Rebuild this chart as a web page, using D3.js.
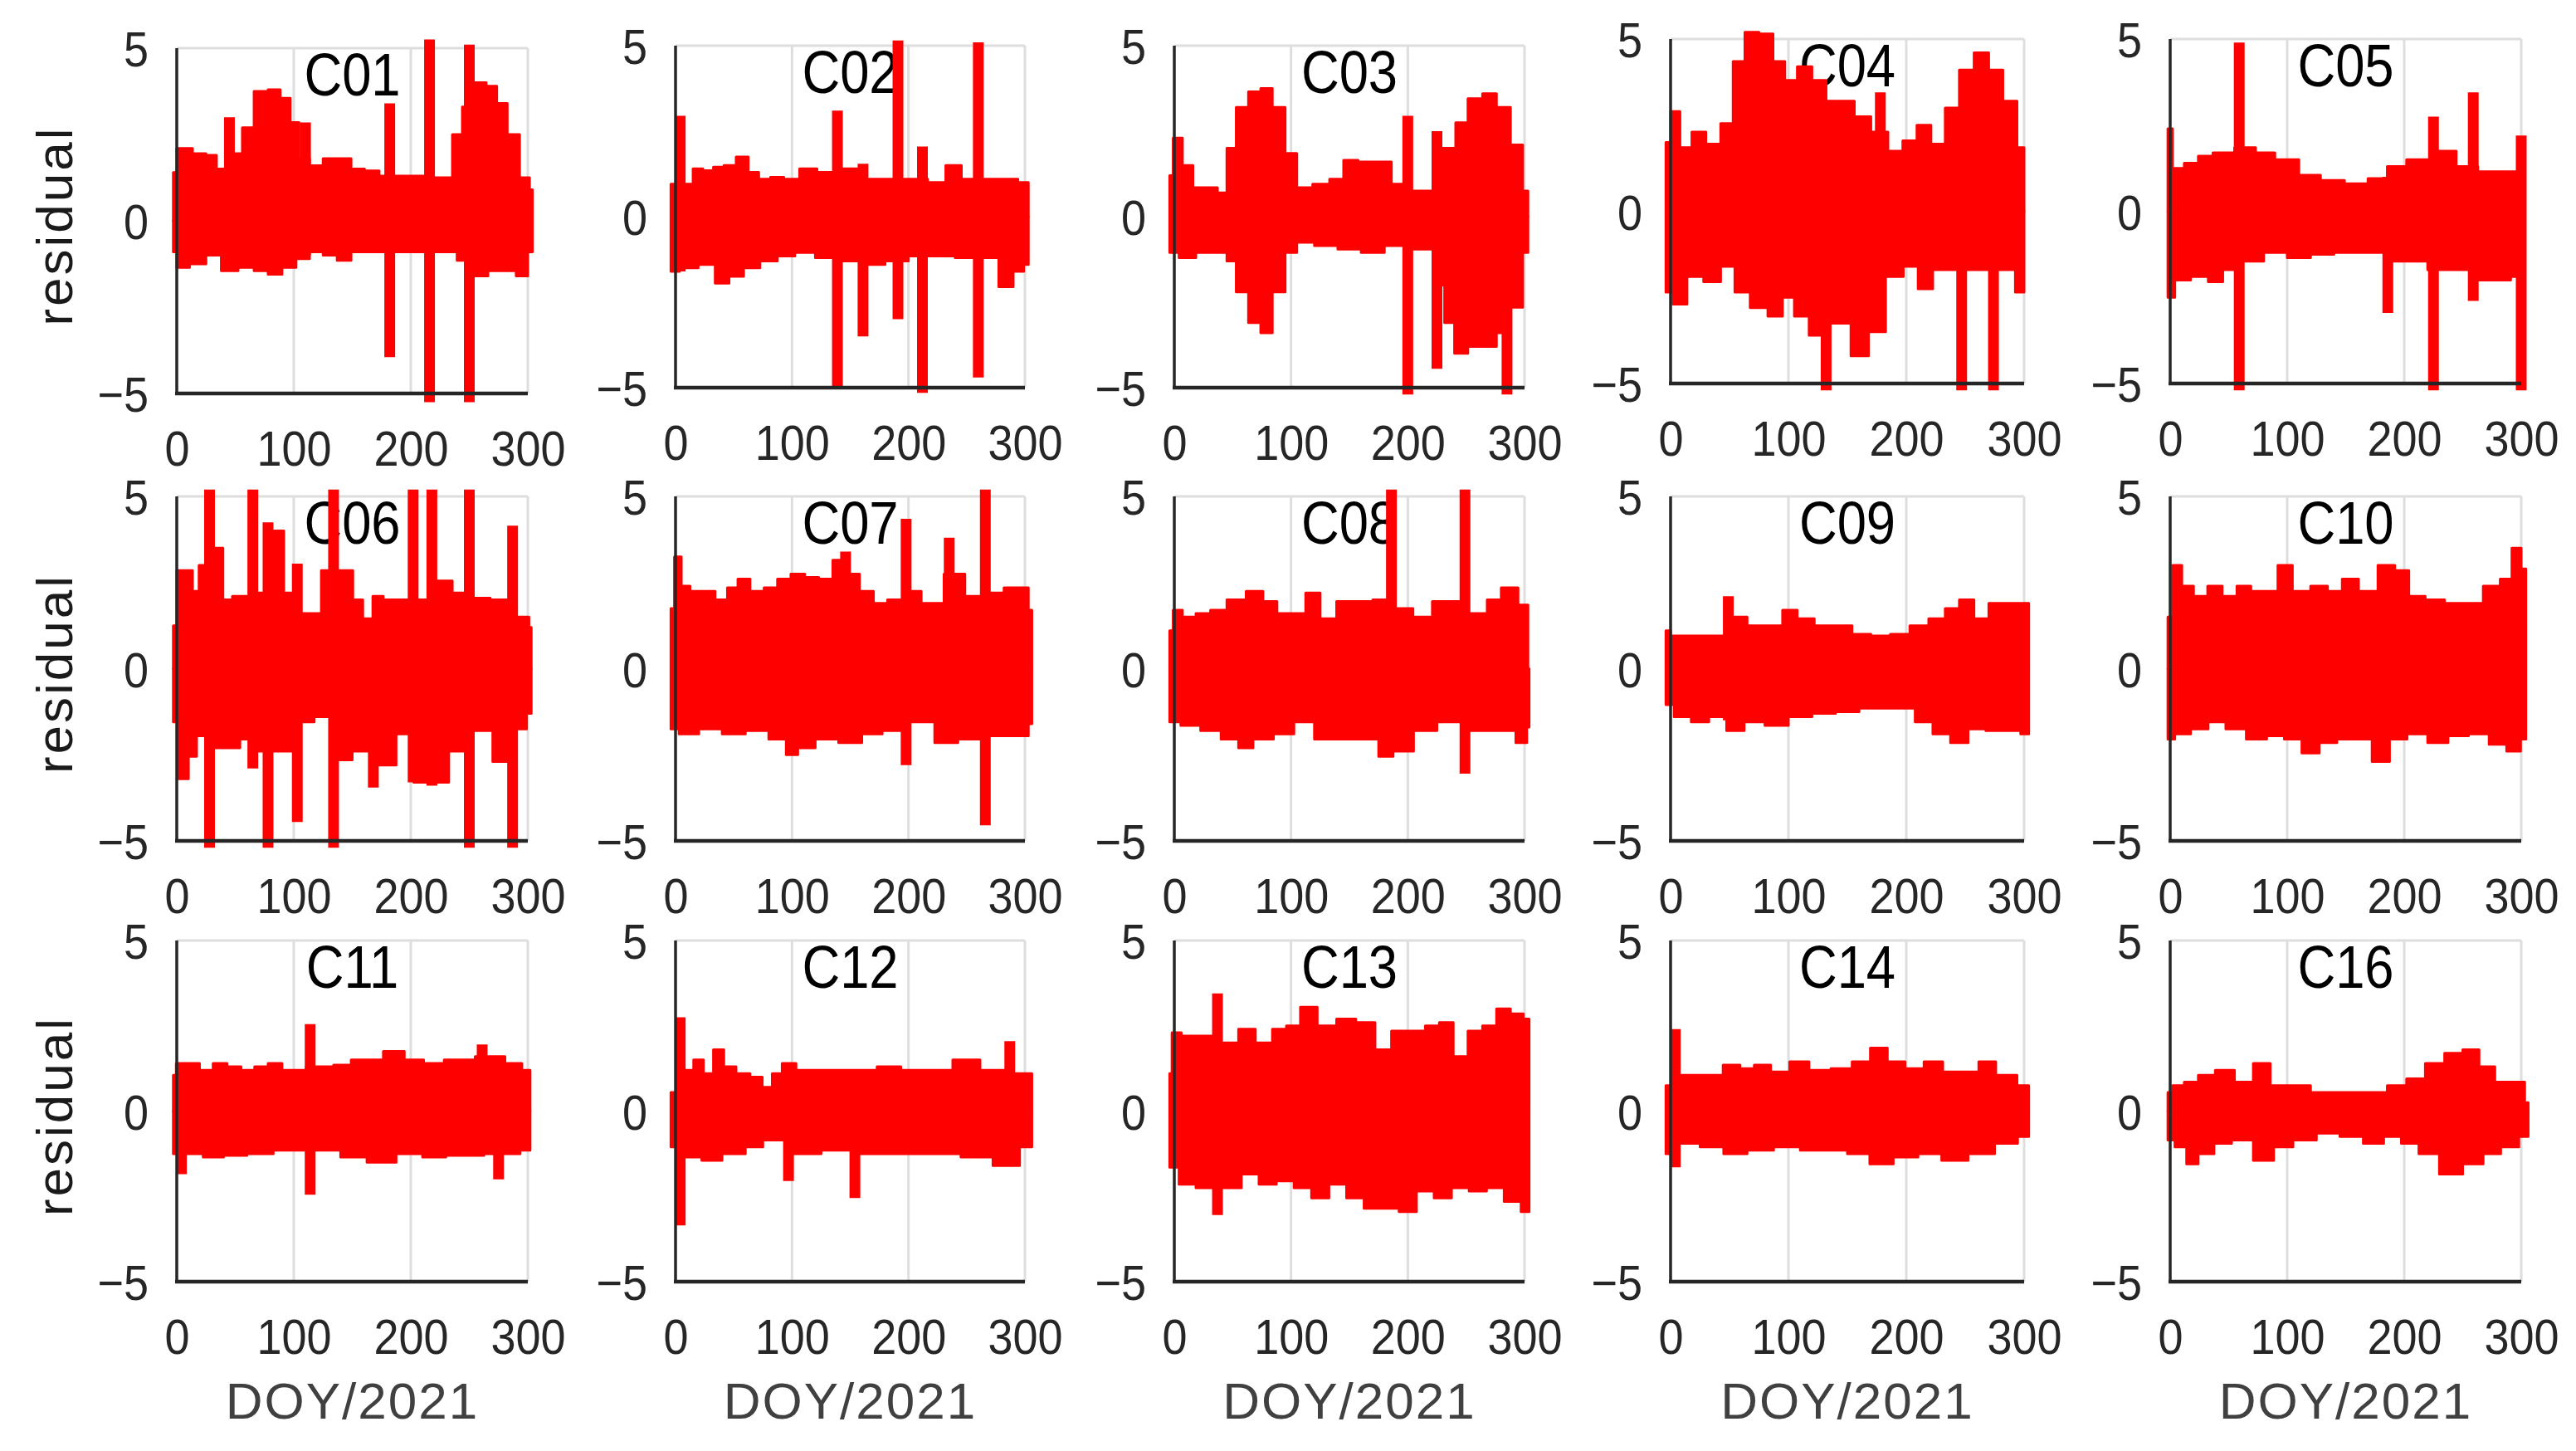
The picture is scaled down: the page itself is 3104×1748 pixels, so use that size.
<!DOCTYPE html>
<html>
<head>
<meta charset="utf-8">
<script src="https://cdn.jsdelivr.net/npm/d3@7"></script>
<style>
  body { margin: 0; background: #fff; }
  svg { display: block; }
</style>
</head>
<body>
<svg id="chart" width="3104" height="1748"></svg>
<script>
// ---- data: residual envelopes per satellite, [DOY, residual] ----
const sats = ["C01", "C02", "C03", "C04", "C05", "C06", "C07", "C08", "C09", "C10", "C11", "C12", "C13", "C14", "C16"];
const xTicks = [0, 100, 200, 300];
const yTicks = [-5, 0, 5];
const xLabel = "DOY/2021";
const yLabel = "residual";

const C01_up = [[-3,1.4],[3,2.1],[8,2.1],[19,1.95],[31,1.9],[37,1.5],[52,1.95],[60,2.7],[72,3.75],[84,3.8],[93,3.55],[101,2.85],[108,1.8],[119,1.6],[131,1.8],[143,1.8],[155,1.5],[166,1.45],[180,1.3],[202,1.3],[231,1.25],[240,2.5],[248,3.3],[260,4.0],[269,3.9],[278,3.4],[287,2.5],[299,1.25],[304,0.9]];
const C01_lo = [[-3,-0.9],[3,-1.35],[19,-1.25],[31,-1.0],[45,-1.45],[60,-1.35],[72,-1.45],[84,-1.55],[96,-1.35],[108,-1.1],[119,-0.9],[131,-1.0],[143,-1.15],[155,-0.9],[166,-0.9],[200,-0.9],[231,-0.9],[248,-1.15],[260,-1.6],[272,-1.45],[284,-1.45],[296,-1.6],[304,-0.9]];
const C01_spk = [[45,3.0,-1.2],[110,2.85,-1.0],[182,3.4,-3.95],[216,5.25,-5.25],[250,5.1,-5.25]];

const C02_up = [[-4,0.95],[11,0.95],[19,1.4],[28,1.35],[37,1.45],[46,1.5],[58,1.75],[67,1.3],[76,1.1],[87,1.15],[99,1.1],[114,1.4],[129,1.3],[152,1.4],[170,1.1],[190,1.1],[210,1.1],[223,1.0],[241,1.5],[250,1.1],[270,1.1],[285,1.1],[303,1.0]];
const C02_lo = [[-4,-1.6],[11,-1.5],[28,-1.4],[40,-1.95],[52,-1.75],[65,-1.5],[80,-1.3],[95,-1.15],[110,-1.05],[130,-1.2],[150,-1.3],[170,-1.4],[190,-1.3],[210,-1.15],[230,-1.15],[250,-1.2],[270,-1.2],[285,-2.05],[295,-1.6],[303,-1.4]];
const C02_spk = [[4,2.95,-1.6],[139,3.1,-4.95],[161,1.55,-3.5],[191,5.15,-3.0],[212,2.05,-5.15],[260,5.1,-4.7]];

const C03_up = [[-4,1.2],[2,2.3],[12,1.5],[20,0.85],[33,0.85],[41,0.7],[49,2.0],[57,3.2],[70,3.65],[78,3.75],[90,3.2],[100,1.85],[110,0.85],[127,0.95],[139,1.1],[151,1.65],[164,1.6],[180,1.6],[192,0.95],[213,0.75],[237,2.0],[245,2.75],[258,3.45],[270,3.6],[282,3.2],[294,2.1],[303,0.75]];
const C03_lo = [[-4,-1.05],[12,-1.2],[25,-1.05],[41,-1.05],[49,-1.3],[57,-2.2],[70,-3.1],[78,-3.4],[90,-2.2],[100,-1.05],[110,-0.75],[130,-0.85],[150,-0.95],[170,-1.05],[190,-0.85],[215,-0.95],[228,-2.0],[235,-3.1],[245,-4.0],[258,-3.8],[270,-3.8],[282,-3.4],[294,-2.65],[303,-1.05]];
const C03_spk = [[200,2.95,-5.2],[225,2.5,-4.45],[285,1.0,-5.2]];

const C04_up = [[-4,2.0],[4,2.9],[12,1.85],[24,2.3],[36,1.95],[49,2.55],[57,4.35],[69,5.2],[81,5.15],[93,4.35],[101,3.8],[114,4.2],[126,3.8],[138,3.2],[150,3.2],[162,2.75],[178,2.3],[191,1.75],[203,2.05],[215,2.5],[227,1.95],[239,3.0],[251,4.1],[264,4.6],[276,4.1],[288,3.2],[300,1.85]];
const C04_lo = [[-4,-2.35],[8,-2.7],[20,-1.9],[36,-2.05],[49,-1.6],[60,-2.35],[75,-2.8],[90,-3.05],[100,-2.5],[110,-3.05],[125,-3.6],[145,-3.25],[161,-4.2],[175,-3.5],[190,-1.9],[205,-1.6],[215,-2.25],[230,-1.7],[255,-1.7],[285,-1.7],[300,-2.35]];
const C04_spk = [[132,2.0,-5.2],[178,3.45,-3.0],[247,2.0,-5.2],[274,3.0,-5.2]];

const C05_up = [[-2,2.4],[6,1.25],[18,1.4],[30,1.6],[43,1.7],[67,1.85],[79,1.7],[100,1.5],[120,1.05],[137,0.9],[161,0.8],[177,0.95],[194,1.3],[210,1.5],[239,1.75],[250,1.3],[276,1.15],[292,1.15],[302,1.6]];
const C05_lo = [[-2,-2.5],[10,-2.0],[25,-1.9],[40,-2.05],[50,-1.7],[70,-1.45],[90,-1.2],[110,-1.35],[130,-1.25],[150,-1.2],[170,-1.2],[200,-1.45],[240,-1.7],[280,-2.0],[302,-1.9]];
const C05_spk = [[59,4.9,-5.2],[186,1.0,-2.95],[225,2.75,-5.2],[259,3.45,-2.6],[300,2.2,-5.2]];

const C06_up = [[-3,1.25],[3,2.85],[11,2.85],[16,2.25],[22,3.0],[36,3.5],[43,2.0],[52,2.1],[60,2.1],[72,2.2],[87,4.0],[96,2.2],[110,1.6],[119,1.6],[128,2.85],[146,2.85],[155,2.0],[163,1.45],[172,2.1],[181,2.0],[190,2.0],[211,2.0],[231,2.55],[240,2.2],[261,2.05],[275,2.0],[299,1.5],[303,1.2]];
const C06_lo = [[-3,-1.55],[6,-3.2],[14,-2.55],[20,-1.95],[40,-2.3],[50,-2.3],[58,-2.05],[72,-2.4],[90,-2.4],[110,-1.55],[125,-1.4],[145,-2.65],[155,-2.4],[180,-2.8],[195,-1.9],[210,-3.3],[225,-3.3],[240,-2.4],[260,-1.8],[280,-2.7],[295,-1.75],[303,-1.3]];
const C06_spk = [[28,5.2,-5.2],[65,5.2,-2.9],[78,4.25,-5.2],[103,3.05,-4.45],[134,5.2,-5.2],[168,1.0,-3.45],[202,5.2,-3.3],[218,5.2,-3.4],[250,5.2,-5.2],[287,4.15,-5.2]];

const C07_up = [[-4,1.75],[2,3.25],[8,2.4],[17,2.25],[28,2.25],[40,2.0],[49,2.35],[58,2.6],[70,2.25],[82,2.35],[93,2.6],[105,2.75],[117,2.65],[129,2.6],[141,3.15],[152,2.75],[164,2.25],[176,1.9],[188,2.0],[205,2.25],[217,1.9],[244,2.75],[253,2.1],[276,2.2],[288,2.35],[300,2.35],[306,1.7]];
const C07_lo = [[-4,-1.75],[10,-1.9],[30,-1.75],[50,-1.9],[70,-1.8],[90,-2.05],[100,-2.5],[110,-2.3],[130,-2.05],[150,-2.15],[170,-1.9],[185,-1.8],[210,-1.55],[235,-2.15],[250,-2.05],[280,-1.95],[300,-1.95],[306,-1.6]];
const C07_spk = [[146,3.4,-1.9],[198,4.35,-2.8],[235,3.8,-2.0],[266,5.2,-4.55]];

const C08_up = [[-4,1.1],[2,1.7],[12,1.5],[25,1.6],[37,1.7],[53,2.0],[70,2.25],[82,1.95],[94,1.6],[106,1.6],[119,2.2],[131,1.45],[147,1.95],[164,1.95],[176,2.0],[196,1.75],[213,1.5],[229,1.95],[262,1.6],[274,2.0],[286,2.35],[303,1.85]];
const C08_lo = [[-4,-1.55],[15,-1.65],[30,-1.8],[50,-2.05],[60,-2.3],[75,-2.05],[95,-1.9],[110,-1.55],[130,-2.05],[150,-2.05],[170,-2.05],[180,-2.55],[195,-2.4],[215,-1.8],[235,-1.55],[262,-1.8],[285,-1.8],[300,-2.15],[304,-1.7]];
const C08_spk = [[186,5.2,-2.0],[249,5.2,-3.05]];

const C09_up = [[-4,1.1],[4,0.95],[24,0.95],[41,0.95],[57,1.5],[73,1.25],[89,1.25],[101,1.7],[114,1.45],[130,1.25],[146,1.25],[162,1.0],[178,0.95],[195,1.0],[211,1.25],[227,1.45],[239,1.75],[251,2.0],[264,1.45],[276,1.9],[288,1.9],[304,1.9]];
const C09_lo = [[-4,-1.05],[10,-1.4],[25,-1.55],[40,-1.4],[55,-1.8],[70,-1.55],[90,-1.65],[110,-1.4],[130,-1.3],[150,-1.25],[170,-1.15],[200,-1.15],[215,-1.55],[230,-1.9],[245,-2.15],[260,-1.75],[275,-1.8],[290,-1.8],[304,-1.9]];
const C09_spk = [[49,2.1,-1.5]];

const C10_up = [[-2,1.5],[6,3.0],[14,2.4],[26,2.1],[38,2.4],[51,2.1],[63,2.4],[75,2.25],[87,2.25],[97,3.0],[112,2.25],[128,2.4],[141,2.25],[153,2.6],[169,2.25],[186,3.0],[198,2.85],[210,2.1],[226,2.0],[243,1.9],[259,1.9],[276,2.4],[288,2.6],[296,3.5],[304,2.9]];
const C10_lo = [[-2,-2.05],[10,-1.9],[25,-1.75],[40,-1.55],[55,-1.75],[75,-2.05],[90,-1.95],[105,-2.05],[120,-2.45],[135,-2.15],[150,-2.05],[165,-2.05],[180,-2.7],[195,-2.05],[210,-1.9],[230,-2.15],[245,-1.95],[265,-1.9],[280,-2.2],[295,-2.4],[304,-2.05]];
const C10_spk = [[180,1.0,-2.7]];

const C11_up = [[-3,1.05],[2,1.4],[14,1.4],[25,1.2],[37,1.4],[49,1.3],[61,1.2],[72,1.3],[84,1.4],[96,1.2],[125,1.3],[143,1.35],[155,1.5],[166,1.5],[187,1.75],[202,1.5],[220,1.4],[237,1.5],[273,1.6],[288,1.4],[302,1.2]];
const C11_lo = [[-3,-1.25],[15,-1.25],[30,-1.35],[50,-1.3],[70,-1.25],[95,-1.15],[130,-1.15],[150,-1.35],[175,-1.5],[200,-1.25],[220,-1.35],[240,-1.3],[285,-1.25],[302,-1.15]];
const C11_spk = [[4,1.0,-1.85],[114,2.55,-2.45],[261,1.95,-1.2],[275,1.0,-2.0]];

const C12_up = [[-4,0.55],[11,1.2],[20,1.5],[28,1.1],[37,1.8],[46,1.3],[58,1.1],[70,1.0],[79,0.7],[87,1.1],[96,1.4],[111,1.2],[129,1.2],[146,1.2],[164,1.2],[182,1.3],[205,1.2],[223,1.2],[253,1.5],[270,1.2],[306,1.1]];
const C12_lo = [[-4,-1.05],[15,-1.35],[30,-1.45],[50,-1.25],[70,-1.05],[80,-0.85],[110,-1.25],[140,-1.15],[170,-1.25],[200,-1.25],[230,-1.25],[260,-1.35],[285,-1.6],[306,-1.05]];
const C12_spk = [[4,2.75,-3.35],[97,1.0,-2.05],[154,1.0,-2.55],[287,2.05,-1.6]];

const C13_up = [[-4,1.1],[0,2.3],[12,2.2],[25,2.2],[49,2.0],[61,2.4],[78,2.0],[90,2.4],[102,2.5],[114,3.05],[131,2.5],[147,2.7],[164,2.6],[180,1.8],[192,2.35],[209,2.35],[221,2.5],[233,2.6],[245,1.6],[258,2.35],[270,2.5],[282,3.0],[294,2.85],[304,2.7]];
const C13_lo = [[-4,-1.65],[12,-2.15],[25,-2.25],[50,-2.25],[65,-1.85],[80,-2.15],[95,-2.05],[110,-2.25],[125,-2.55],[140,-2.15],[155,-2.55],[170,-2.85],[185,-2.85],[200,-2.95],[215,-2.35],[230,-2.55],[245,-2.25],[260,-2.35],[275,-2.25],[290,-2.65],[304,-2.95]];
const C13_spk = [[37,3.45,-3.05]];

const C14_up = [[-4,0.75],[12,1.05],[24,1.05],[36,1.05],[53,1.35],[65,1.25],[77,1.35],[93,1.15],[109,1.45],[126,1.2],[146,1.25],[162,1.45],[177,1.85],[191,1.45],[207,1.25],[223,1.45],[239,1.15],[255,1.15],[268,1.45],[284,1.05],[304,0.75]];
const C14_lo = [[-4,-1.25],[15,-0.95],[35,-1.05],[55,-1.25],[75,-1.15],[100,-1.05],[120,-1.15],[140,-1.15],[160,-1.25],[178,-1.55],[200,-1.35],[220,-1.25],[240,-1.45],[265,-1.25],[285,-0.95],[304,-0.75]];
const C14_spk = [[4,2.4,-1.65]];

const C16_up = [[-2,0.55],[6,0.75],[18,0.85],[30,1.05],[47,1.2],[63,0.85],[79,1.4],[92,0.75],[112,0.75],[128,0.55],[145,0.55],[161,0.55],[177,0.55],[194,0.75],[210,0.95],[226,1.4],[243,1.7],[257,1.8],[271,1.3],[284,0.85],[300,0.85],[306,0.25]];
const C16_lo = [[-2,-0.85],[10,-1.05],[18,-1.55],[30,-1.25],[45,-0.95],[60,-0.85],[82,-1.45],[95,-1.05],[115,-0.85],[135,-0.65],[155,-0.75],[175,-0.95],[190,-0.75],[205,-0.95],[220,-1.25],[240,-1.85],[260,-1.55],[275,-1.25],[290,-1.05],[306,-0.75]];
const C16_spk = [[82,1.4,-1.45],[243,1.0,-1.85]];

const uppers = [C01_up, C02_up, C03_up, C04_up, C05_up, C06_up, C07_up, C08_up, C09_up, C10_up, C11_up, C12_up, C13_up, C14_up, C16_up];
const lowers = [C01_lo, C02_lo, C03_lo, C04_lo, C05_lo, C06_lo, C07_lo, C08_lo, C09_lo, C10_lo, C11_lo, C12_lo, C13_lo, C14_lo, C16_lo];
const spikes = [C01_spk, C02_spk, C03_spk, C04_spk, C05_spk, C06_spk, C07_spk, C08_spk, C09_spk, C10_spk, C11_spk, C12_spk, C13_spk, C14_spk, C16_spk];

// ---- layout (pixel boxes of each axes) ----
const colLeft = [213, 814, 1415, 2013, 2615];
const colRight = [636, 1235, 1837, 2439, 3038];
const rowTop = [[58, 55, 55, 47, 47], [598, 598, 598, 598, 598], [1133, 1133, 1133, 1133, 1133]];
const rowBottom = [[474, 467, 467, 462, 462], [1013, 1013, 1013, 1013, 1013], [1544, 1544, 1544, 1544, 1544]];

const FONT = '"Liberation Sans", Arial, Helvetica, sans-serif';
const RED = "#ff0000";
const GRID = "#dedede";
const AXIS = "#262626";

const svg = d3.select("#chart").style("font-family", FONT);
svg.append("rect").attr("width", 3104).attr("height", 1748).attr("fill", "#fff");

const minus = (d) => (d < 0 ? "\u2212" + Math.abs(d) : String(d));

sats.forEach((sat, i) => {
  const r = Math.floor(i / 5), c = i % 5;
  const left = colLeft[c], right = colRight[c];
  const top = rowTop[r][c], bottom = rowBottom[r][c];

  const x = d3.scaleLinear().domain([0, 300]).range([left, right]);
  const y = d3.scaleLinear().domain([-5, 5]).range([bottom, top]);

  const g = svg.append("g").attr("class", "panel");

  // grid
  g.append("g")
    .selectAll("line")
    .data(xTicks.slice(1))
    .join("line")
    .attr("x1", (d) => x(d)).attr("x2", (d) => x(d))
    .attr("y1", top).attr("y2", bottom)
    .attr("stroke", GRID).attr("stroke-width", 3);
  g.append("g")
    .selectAll("line")
    .data(yTicks.slice(1))
    .join("line")
    .attr("x1", left).attr("x2", right)
    .attr("y1", (d) => y(d)).attr("y2", (d) => y(d))
    .attr("stroke", GRID).attr("stroke-width", 3);

  // title (sits under the red trace, as in the figure)
  g.append("text")
    .attr("transform", `translate(${(left + right) / 2},${top + 57}) scale(0.88,1)`)
    .attr("text-anchor", "middle")
    .attr("font-size", 72)
    .attr("fill", "#000")
    .text(sat);

  // residual envelope (upper half and lower half, both filled to zero)
  const area = d3.area()
    .x((d) => x(d[0]))
    .y0(y(0))
    .y1((d) => y(d[1]))
    .curve(d3.curveStep);

  g.append("path").datum(uppers[i]).attr("d", area)
    .attr("fill", RED).attr("stroke", RED).attr("stroke-width", 3).attr("stroke-linejoin", "round");
  g.append("path").datum(lowers[i]).attr("d", area)
    .attr("fill", RED).attr("stroke", RED).attr("stroke-width", 3).attr("stroke-linejoin", "round");

  // outliers
  g.append("g")
    .selectAll("line")
    .data(spikes[i])
    .join("line")
    .attr("x1", (d) => x(d[0])).attr("x2", (d) => x(d[0]))
    .attr("y1", (d) => y(d[2])).attr("y2", (d) => y(d[1]))
    .attr("stroke", RED).attr("stroke-width", 13);

  // axes
  const xAxis = d3.axisBottom(x).tickValues(xTicks).tickSize(0).tickSizeOuter(0).tickPadding(44).tickFormat(minus);
  const xg = g.append("g").attr("transform", `translate(0,${bottom})`).call(xAxis);
  xg.select(".domain").attr("stroke", AXIS).attr("stroke-width", 4.5).attr("d", `M${left - 2},0H${right}`);
  xg.selectAll("text")
    .attr("font-size", 60).attr("font-family", FONT).attr("fill", AXIS)
    .attr("transform", "scale(0.9,1)");

  const yAxis = d3.axisLeft(y).tickValues(yTicks).tickSize(0).tickSizeOuter(0).tickPadding(0).tickFormat(minus);
  const yg = g.append("g").attr("transform", `translate(${left},0)`).call(yAxis);
  yg.select(".domain").attr("stroke", AXIS).attr("stroke-width", 3.5).attr("d", `M0,${top}V${bottom}`);
  yg.selectAll("text")
    .attr("font-size", 60).attr("font-family", FONT).attr("fill", AXIS)
    .attr("x", -34 / 0.9).attr("dy", "0.36em")
    .attr("transform", "scale(0.9,1)");

  // x label on bottom row
  if (r === 2) {
    g.append("text")
      .attr("x", (left + right) / 2)
      .attr("y", bottom + 165)
      .attr("text-anchor", "middle")
      .attr("font-size", 62)
      .attr("letter-spacing", 2)
      .attr("fill", "#404040")
      .text(xLabel);
  }

  // y label on first column
  if (c === 0) {
    g.append("text")
      .attr("transform", `translate(87,${(top + bottom) / 2 + 6}) rotate(-90)`)
      .attr("text-anchor", "middle")
      .attr("font-size", 62)
      .attr("letter-spacing", 3)
      .attr("fill", "#1a1a1a")
      .text(yLabel);
  }
});
</script>
</body>
</html>
